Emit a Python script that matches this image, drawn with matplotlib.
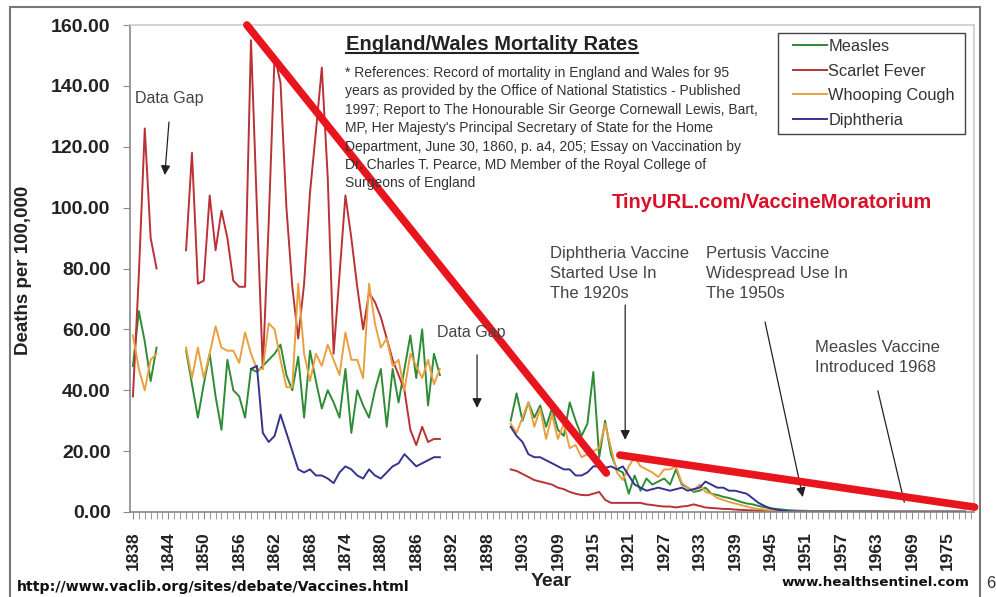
import matplotlib
matplotlib.use("Agg")
import matplotlib.pyplot as plt
import numpy as np
from matplotlib.lines import Line2D
from matplotlib.patches import Rectangle

plt.rcParams['font.family'] = ['Liberation Sans', 'DejaVu Sans']

# category axis (the source sheet has one blank row between 1900 and 1901)
cats = [str(y) for y in range(1838, 1901)] + [''] + [str(y) for y in range(1901, 1980)]

# deaths per 100,000, three blocks of years
measles_a = [48, 66, 56, 43, 54]
measles_b = [53, 42, 31, 42, 52, 38, 27, 50, 40, 38, 31, 47, 46, 48, 50, 52, 55, 45, 40, 51,
             31, 53, 43, 34, 40, 36, 31, 47, 26, 40, 35, 31, 40, 47, 28, 47, 36, 47, 58, 44,
             60, 35, 52, 45]
measles_c = [30, 39, 30, 36, 31, 35, 28, 34, 27, 25, 36, 30, 25, 29, 46, 18, 30, 19, 14, 13,
             6, 12, 7, 11, 9, 10, 11, 9, 14, 9, 8, 6.6, 7, 8, 6, 5.6, 5, 4.6, 4, 3.3,
             2.8, 2.5, 2, 1.6, 1.2, 1.0, 0.8, 0.6, 0.5, 0.4, 0.4, 0.3, 0.3, 0.3, 0.2, 0.2,
             0.2, 0.2, 0.2, 0.2, 0.2, 0.2, 0.2, 0.1, 0.1, 0.1, 0.1, 0.1, 0.1, 0.1, 0.1, 0.1,
             0.1, 0.1, 0.1, 0.1, 0.1, 0.1]

scarlet_a = [38, 78, 126, 90, 80]
scarlet_b = [86, 118, 75, 76, 104, 86, 99, 90, 76, 74, 74, 155, 100, 47, 95, 150, 141, 100, 74, 57,
             75, 105, 125, 146, 110, 52, 78, 104, 90, 74, 60, 72, 69, 64, 57, 50, 45, 40, 27, 22,
             28, 23, 24, 24]
scarlet_c = [14, 13.5, 12.5, 11.5, 10.5, 10, 9.5, 9, 8, 7.5, 6.6, 6, 5.6, 5.5, 6, 6.6, 4, 3, 3, 3,
             3, 3, 3, 2.5, 2.3, 2, 1.8, 1.8, 1.5, 1.8, 2, 2.5, 2, 1.5, 1.3, 1.2, 1, 1, 0.8, 0.7,
             0.6, 0.5, 0.4, 0.3, 0.3, 0.2, 0.2, 0.2, 0.1, 0.1, 0.1, 0.1, 0.1, 0.1, 0.1, 0.1,
             0.1, 0.1, 0.1, 0.1, 0.1, 0.1, 0.1, 0.1, 0.1, 0.1, 0.1, 0.1, 0.1, 0.1, 0.1, 0.1,
             0.1, 0.1, 0.1, 0.1, 0.1, 0.1]

whooping_a = [58, 47, 40, 50, 52]
whooping_b = [54, 44, 54, 44, 52, 61, 54, 53, 53, 49, 59, 52, 47, 47, 62, 60, 50, 41, 41, 75,
              52, 43, 52, 48, 55, 50, 45, 59, 50, 50, 44, 75, 62, 54, 57, 48, 50, 40, 52, 48,
              44, 50, 42, 47]
whooping_c = [29, 26, 31, 36, 28, 34, 24, 32, 24, 29, 21, 22, 18, 19, 20, 21, 29, 21, 13, 10.5,
              15, 18, 15, 14, 13, 11.5, 14, 14, 15, 9.5, 8, 7, 9, 6.6, 6, 4.6, 4, 3.3, 2.8, 2.3,
              1.8, 1.3, 1, 0.8, 0.6, 0.5, 0.4, 0.3, 0.3, 0.2, 0.2, 0.2, 0.2, 0.2, 0.1, 0.1,
              0.1, 0.1, 0.1, 0.1, 0.1, 0.1, 0.1, 0.1, 0.1, 0.1, 0.1, 0.1, 0.1, 0.1, 0.1, 0.1,
              0.1, 0.1, 0.1, 0.1, 0.1, 0.1]

diphtheria_b = [47, 48, 26, 23, 25, 32, 26, 20, 14, 13, 14, 12, 12, 11, 9.5, 13, 15, 14, 12, 11,
                14, 12, 11, 13, 15, 16, 19, 17, 15, 16, 17, 18, 18]
diphtheria_c = [28, 25, 23, 19, 18, 18, 17, 16, 15, 14, 14, 12, 12, 13, 15, 15, 14.5, 15, 14, 15,
                12, 9, 8, 7, 7.5, 8, 7.5, 7, 7.5, 8, 7, 7.5, 8, 10, 9, 8, 8, 7, 7, 6.5,
                6, 4.5, 3, 2, 1.2, 0.8, 0.5, 0.3, 0.2, 0.2, 0.1, 0.1, 0.1, 0.1, 0.1, 0.1,
                0.1, 0.1, 0.1, 0.1, 0.1, 0.1, 0.1, 0.1, 0.1, 0.1, 0.1, 0.1, 0.1, 0.1, 0.1, 0.1,
                0.1, 0.1, 0.1, 0.1, 0.1, 0.1]

# hand drawn red "trend" strokes (category position, value)
trend_a_x = [19.3, 80.2]
trend_a_y = [160, 12.8]
trend_b_x = [82.5, 142.6]
trend_b_y = [18.7, 1.6]

W, H = 996, 597


def fx(px):
    return px / W


def fy(py):
    return 1 - py / H


def series(*blocks):
    """Spread (start year, values) blocks over the category axis, NaN elsewhere."""
    arr = np.full(len(cats), np.nan)
    for start, vals in blocks:
        i = cats.index(str(start))
        arr[i:i + len(vals)] = vals
    return arr


x = np.arange(len(cats))
measles = series((1838, measles_a), (1847, measles_b), (1901, measles_c))
scarlet = series((1838, scarlet_a), (1847, scarlet_b), (1901, scarlet_c))
whooping = series((1838, whooping_a), (1847, whooping_b), (1901, whooping_c))
diphtheria = series((1858, diphtheria_b), (1901, diphtheria_c))

fig = plt.figure(figsize=(W / 100, H / 100), dpi=100)
ax = fig.add_axes([fx(130), fy(512), (974 - 130) / W, (512 - 25) / H])

ax.plot(x, measles, color='#2e8b36', lw=1.4, label='Measles')
ax.plot(x, scarlet, color='#b83236', lw=1.4, label='Scarlet Fever')
ax.plot(x, whooping, color='#e8a040', lw=1.4, label='Whooping Cough')
ax.plot(x, diphtheria, color='#34348f', lw=1.4, label='Diphtheria')

ax.plot(trend_a_x, trend_a_y, color='#e8141e', lw=5.5, solid_capstyle='round', clip_on=False, zorder=5)
ax.plot(trend_b_x, trend_b_y, color='#e8141e', lw=5.5, solid_capstyle='round', clip_on=False, zorder=5)

ax.set_xlim(-0.5, len(cats) - 0.5)
ax.set_ylim(0, 160)

ax.set_xticks(x[::6])
ax.set_xticklabels(cats[::6], rotation=90, fontsize=12.5, fontweight='bold', color='#222')
ax.set_xticks(x, minor=True)
yt = np.arange(0, 161, 20)
ax.set_yticks(yt)
ax.set_yticklabels([f'{v:.2f}' for v in yt], fontsize=14, fontweight='bold', color='#222')
ax.tick_params(axis='both', which='both', direction='out', length=5, color='#888')
ax.tick_params(axis='x', which='major', pad=9)
ax.tick_params(axis='y', pad=9)

for side in ['left', 'bottom']:
    ax.spines[side].set_color('#888')
    ax.spines[side].set_linewidth(1.2)
for side in ['top', 'right']:
    ax.spines[side].set_color('#cccccc')
    ax.spines[side].set_linewidth(1.2)

# legend: frameless, with its own box drawn around it
leg = ax.legend(loc='upper left', bbox_to_anchor=((793 - 130) / 844, (512 - 39) / 487), fontsize=11.8,
                handlelength=2.1, handletextpad=0.05, labelspacing=0.58, borderpad=0,
                borderaxespad=0, frameon=False)
for t in leg.get_texts():
    t.set_color('#333')
fig.patches.append(Rectangle((fx(778), fy(134)), fx(965) - fx(778), fy(33) - fy(134),
                             transform=fig.transFigure, fill=False, edgecolor='#444', lw=1.0))

txt = '#444'
fig.text(fx(24), fy(270), 'Deaths per 100,000', rotation=90, ha='center', va='center',
         fontsize=13.5, fontweight='bold', color='#222')
fig.text(fx(551), fy(582), 'Year', ha='center', va='center', fontsize=14, fontweight='bold', color='#222')

title = fig.text(fx(492), fy(45), 'England/Wales Mortality Rates', ha='center', va='center',
                 fontsize=14.5, fontweight='bold', color='#222')

refs = ("* References: Record of mortality in England and Wales for 95\n"
        "years as provided by the Office of National Statistics - Published\n"
        "1997; Report to The Honourable Sir George Cornewall Lewis, Bart,\n"
        "MP, Her Majesty's Principal Secretary of State for the Home\n"
        "Department, June 30, 1860, p. a4, 205; Essay on Vaccination by\n"
        "Dr. Charles T. Pearce, MD Member of the Royal College of\n"
        "Surgeons of England")
fig.text(fx(345), fy(66), refs, ha='left', va='top', fontsize=10, linespacing=1.4, color='#333')

fig.text(fx(772), fy(203), 'TinyURL.com/VaccineMoratorium', ha='center', va='center',
         fontsize=14.5, fontweight='bold', color='#d8102a')

fig.text(fx(135), fy(98), 'Data Gap', ha='left', va='center', fontsize=11.5, color=txt)
fig.text(fx(437), fy(333), 'Data Gap', ha='left', va='center', fontsize=11.5, color=txt, zorder=0)
fig.text(fx(550), fy(246), 'Diphtheria Vaccine\nStarted Use In\nThe 1920s', ha='left', va='top',
         fontsize=12, linespacing=1.42, color=txt)
fig.text(fx(706), fy(246), 'Pertusis Vaccine\nWidespread Use In\nThe 1950s', ha='left', va='top',
         fontsize=12, linespacing=1.42, color=txt)
fig.text(fx(815), fy(340), 'Measles Vaccine\nIntroduced 1968', ha='left', va='top',
         fontsize=12, linespacing=1.38, color=txt)

arrow = dict(arrowstyle='-|>', color='#222', lw=0.9, mutation_scale=14, shrinkA=0, shrinkB=0)
ax.annotate('', xy=(5.4, 110.7), xytext=(6.1, 128.1), arrowprops=arrow)
ax.annotate('', xy=(58.3, 34.2), xytext=(58.3, 51.6), arrowprops=arrow)
ax.annotate('', xy=(83.4, 23.7), xytext=(83.4, 68.0), arrowprops=arrow)
ax.annotate('', xy=(113.5, 4.9), xytext=(107.1, 62.4), arrowprops=arrow)
ax.annotate('', xy=(130.8, 2.3), xytext=(126.1, 40.7),
            arrowprops=dict(arrowstyle='-', color='#222', lw=0.9))

fig.text(fx(17), fy(587), 'http://www.vaclib.org/sites/debate/Vaccines.html', ha='left', va='center',
         fontsize=10.2, fontweight='bold', family='DejaVu Sans', color='#111')
fig.text(fx(970), fy(583), 'www.healthsentinel.com', ha='right', va='center',
         fontsize=9.7, fontweight='bold', family='DejaVu Sans', color='#111')
fig.text(fx(986), fy(583), '6', ha='left', va='center', fontsize=12, color='#333')

fig.patches.append(Rectangle((fx(10), fy(660)), fx(980) - fx(10), fy(7) - fy(660),
                             transform=fig.transFigure, fill=False, edgecolor='#777', lw=1.5))

# underline the title
fig.canvas.draw()
bb = title.get_window_extent().transformed(fig.transFigure.inverted())
fig.add_artist(Line2D([bb.x0, bb.x1], [bb.y0 + 0.002, bb.y0 + 0.002],
                      transform=fig.transFigure, color='#222', lw=1.5))

fig.savefig('out.png', dpi=100)
